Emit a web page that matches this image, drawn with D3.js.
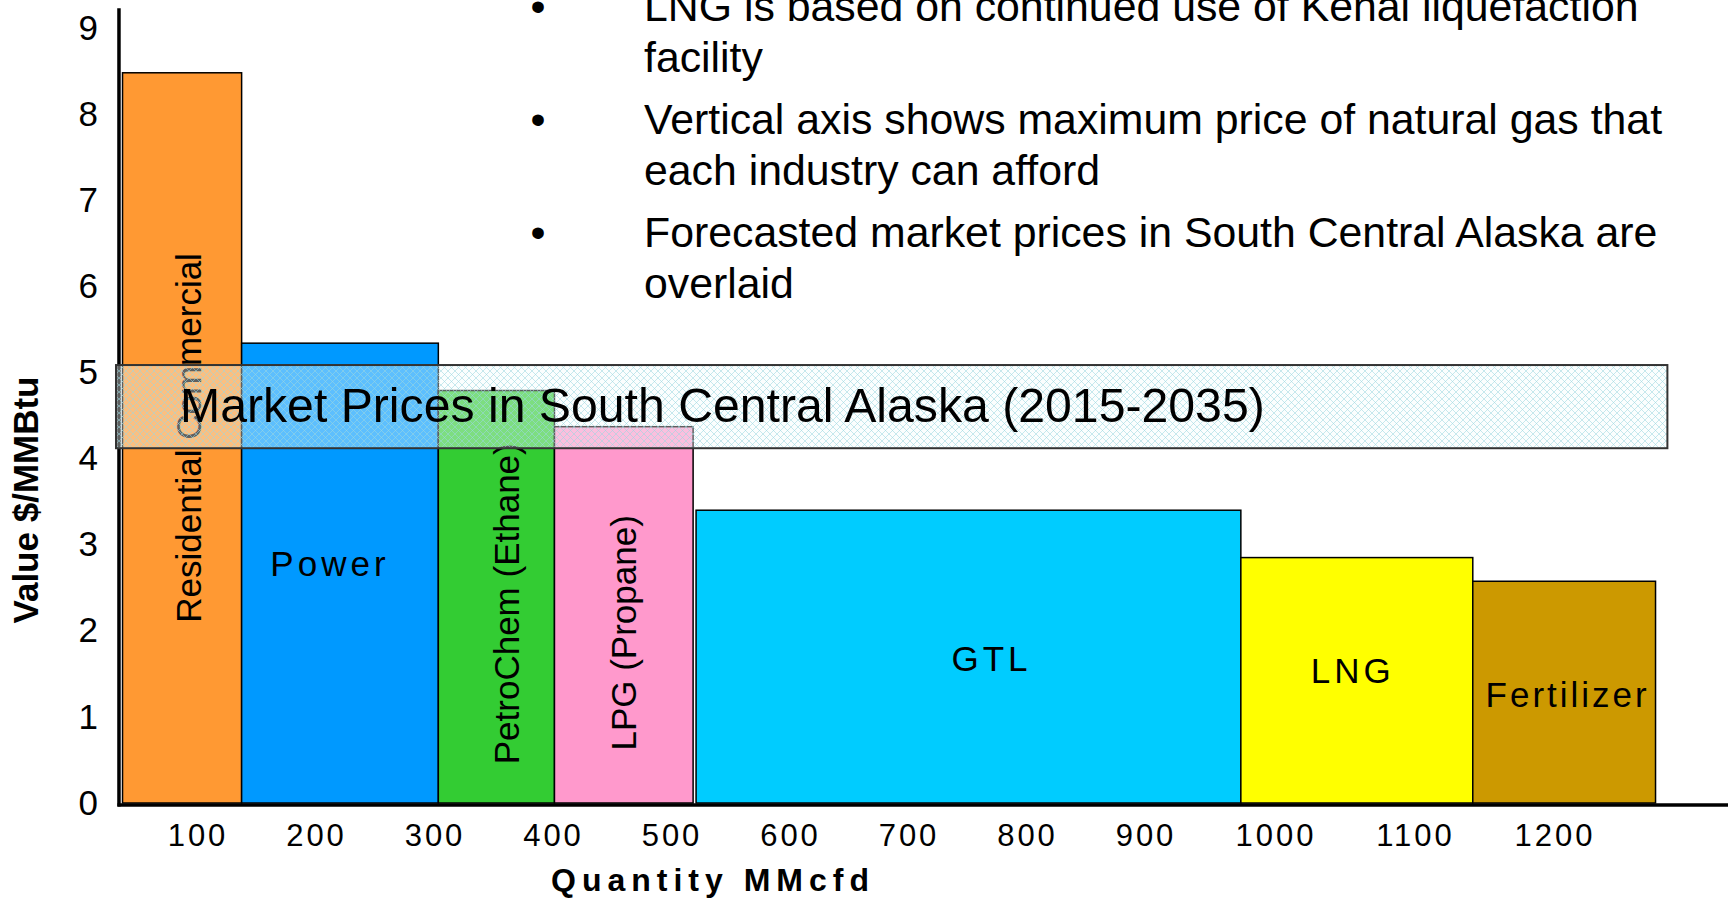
<!DOCTYPE html>
<html>
<head>
<meta charset="utf-8">
<script src="https://cdn.jsdelivr.net/npm/d3@7"></script>
<style>
  html, body { margin: 0; padding: 0; background: #fff; }
  svg { display: block; font-family: "Liberation Sans", Arial, sans-serif; }
</style>
</head>
<body>
<svg id="chart" width="1730" height="899"></svg>
<script>
// ---------------- DATA ----------------
const categories = ["Residential Commercial", "Power", "PetroChem (Ethane)", "LPG (Propane)", "GTL", "LNG", "Fertilizer"];
const qtyStart   = [38, 138.5, 304.5, 402.5, 522, 974.5, 1142.5];     // MMcfd
const qtyEnd     = [138.5, 304.5, 402.5, 519.5, 974.5, 1142.5, 1273.5];
const values     = [8.48, 5.34, 4.79, 4.37, 3.40, 2.85, 2.575];        // $/MMBtu
const barColors  = ["#FF9933", "#0099FF", "#33CC33", "#FF99CC", "#00CCFF", "#FFFF00", "#CC9900"];
const labelVertical = [true, false, true, true, false, false, false];

const marketPriceRange = [4.12, 5.086];   // $/MMBtu
const marketQtyRange   = [32.5, 1282];    // MMcfd
const marketLabel = "Market Prices in South Central Alaska (2015-2035)";

const xTicks = [100, 200, 300, 400, 500, 600, 700, 800, 900, 1000, 1100, 1200];
const yTicks = [0, 1, 2, 3, 4, 5, 6, 7, 8, 9];
const xTitle = "Quantity MMcfd";
const yTitle = "Value $/MMBtu";

const bullets = [
  ["LNG is based on continued use of Kenai liquefaction", "facility"],
  ["Vertical axis shows maximum price of natural gas that", "each industry can afford"],
  ["Forecasted market prices in South Central Alaska are", "overlaid"]
];

// ---------------- LAYOUT ----------------
const W = 1730, H = 899;
const svg = d3.select("#chart");

const x = d3.scaleLinear().domain([0, 900, 1000, 1200]).range([77.5, 1144, 1274, 1553]);
const y = d3.scaleLinear().domain([0, 9]).range([803, 28]);
const axisX = x(35);           // vertical axis position
const baseY = y(0) + 2;        // horizontal axis position

// label nudges (styling)
const labelNudge = [[6, 0], [-12, -10], [10, 7], [0, 18], [21, 2], [-6, -10], [2, 2]];
const labelSpacing = [0, 4, 0, 0, 4, 4, 3];

// pattern for market band
const defs = svg.append("defs");
const pat = defs.append("pattern").attr("id", "dia")
  .attr("width", 7).attr("height", 7).attr("patternUnits", "userSpaceOnUse");
pat.append("rect").attr("width", 7).attr("height", 7).attr("fill", "#f4fcfd").attr("fill-opacity", 0.38);
pat.append("path").attr("d", "M0,0L7,7M7,0L0,7")
  .attr("stroke", "#9ad6e0").attr("stroke-width", 1).attr("stroke-opacity", 0.55).attr("fill", "none");

// ---------------- BARS ----------------
const barData = categories.map((c, i) => ({
  name: c, s: qtyStart[i], e: qtyEnd[i], v: values[i], color: barColors[i],
  vert: labelVertical[i], nudge: labelNudge[i], ls: labelSpacing[i]
}));

svg.append("g").selectAll("rect").data(barData).join("rect")
  .attr("x", d => x(d.s))
  .attr("y", d => y(d.v))
  .attr("width", d => x(d.e) - x(d.s))
  .attr("height", d => y(0) - y(d.v))
  .attr("fill", d => d.color)
  .attr("stroke", "#000")
  .attr("stroke-width", 1.5);

// bar labels
svg.append("g").selectAll("text").data(barData).join("text")
  .attr("font-size", 35)
  .attr("fill", "#000")
  .attr("text-anchor", "middle")
  .attr("dominant-baseline", "central")
  .attr("letter-spacing", d => d.ls)
  .attr("transform", d => {
    const cx = (x(d.s) + x(d.e)) / 2 + d.nudge[0];
    const cy = (y(d.v) + y(0)) / 2 + d.nudge[1];
    return d.vert ? `translate(${cx},${cy}) rotate(-90)` : `translate(${cx + d.ls / 2},${cy})`;
  })
  .text(d => d.name);

// ---------------- AXES ----------------
svg.append("line")
  .attr("x1", axisX).attr("x2", axisX)
  .attr("y1", baseY + 1.5).attr("y2", y(9.23))
  .attr("stroke", "#000").attr("stroke-width", 3.5);
svg.append("line")
  .attr("x1", axisX - 1.5).attr("x2", W - 2)
  .attr("y1", baseY).attr("y2", baseY)
  .attr("stroke", "#000").attr("stroke-width", 3.5);

const gy = svg.append("g").attr("transform", `translate(${axisX},0)`)
  .call(d3.axisLeft(y).tickValues(yTicks).tickSize(0).tickPadding(21).tickFormat(d3.format("d")));
gy.select(".domain").remove();
gy.selectAll("text").attr("font-size", 35).attr("font-family", "Liberation Sans, Arial, sans-serif").attr("fill", "#000");

const gx = svg.append("g").attr("transform", `translate(0,${baseY})`)
  .call(d3.axisBottom(x).tickValues(xTicks).tickSize(0).tickPadding(19).tickFormat(d3.format("d")));
gx.select(".domain").remove();
gx.selectAll("text").attr("font-size", 31).attr("letter-spacing", 3).attr("dx", 1.5)
  .attr("font-family", "Liberation Sans, Arial, sans-serif").attr("fill", "#000");

// axis titles
svg.append("text")
  .attr("x", 713).attr("y", 891)
  .attr("text-anchor", "middle")
  .attr("font-size", 32).attr("font-weight", "bold").attr("letter-spacing", 6)
  .text(xTitle);
svg.append("text")
  .attr("transform", `translate(38,500) rotate(-90)`)
  .attr("text-anchor", "middle")
  .attr("font-size", 35).attr("font-weight", "bold")
  .text(yTitle);

// ---------------- MARKET BAND ----------------
const bx0 = x(marketQtyRange[0]), bx1 = x(marketQtyRange[1]);
const by0 = y(marketPriceRange[1]), by1 = y(marketPriceRange[0]);
svg.append("rect")
  .attr("x", bx0).attr("y", by0)
  .attr("width", bx1 - bx0).attr("height", by1 - by0)
  .attr("fill", "url(#dia)")
  .attr("stroke", "#333").attr("stroke-width", 2);
svg.append("text")
  .attr("x", bx0 + 64).attr("y", (by0 + by1) / 2 + 15)
  .attr("font-size", 48.2).attr("fill", "#000")
  .text(marketLabel);

// ---------------- BULLET TEXT ----------------
const bg = svg.append("g");
bullets.forEach((lines, i) => {
  const base = 20.5 + i * 113;
  bg.append("text").attr("x", 538).attr("y", base).attr("text-anchor", "middle")
    .attr("font-size", 42.8).text("\u2022");
  lines.forEach((ln, j) => {
    bg.append("text").attr("x", 644).attr("y", base + j * 51.5)
      .attr("font-size", 42.8).text(ln);
  });
});
</script>
</body>
</html>
